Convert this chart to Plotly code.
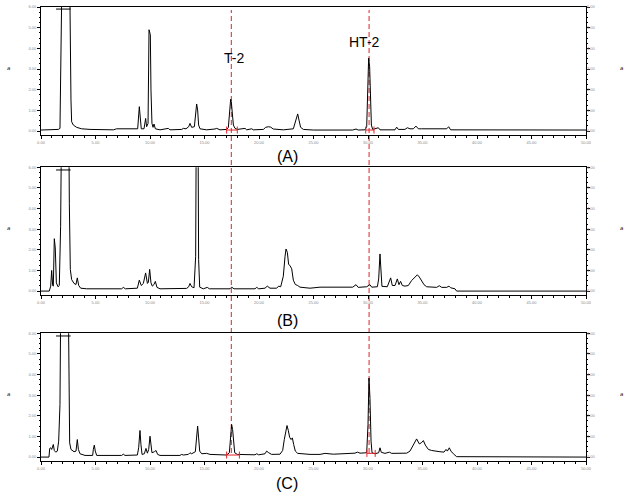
import plotly.graph_objects as go

# ---------------- data (retention time [min], detector response) ----------------
t_A = [0, 0.83, 1.59, 1.74, 1.83, 1.96, 2.60, 2.66, 2.75, 2.81, 2.97, 3.27, 3.73, 4.50, 6.64, 6.94,
       7.86, 8.47, 8.87, 9.02, 9.11, 9.20, 9.45, 9.60, 9.69, 9.82, 9.91, 9.97, 10.03, 10.09, 10.18,
       10.28, 10.37, 10.49, 10.92, 11.68, 11.83, 12.91, 13.06, 13.30, 13.55, 13.67, 13.82, 14.07,
       14.22, 14.28, 14.37, 14.46, 14.59, 15.20, 15.96, 16.12, 16.42, 17.03, 17.19, 17.31, 17.40,
       17.46, 17.55, 17.65, 17.80, 18.01, 18.72, 18.87, 19.33, 19.48, 20.40, 20.61, 20.86, 21.07,
       21.31, 22.23, 23.15, 23.36, 23.55, 23.67, 23.82, 24.07, 25.0, 28.6, 28.90, 29.1, 29.72,
       29.88, 29.97, 30.06, 30.15, 30.24, 30.31, 30.43, 30.95, 31.10, 32.48, 32.63, 32.78, 33.39,
       33.61, 33.85, 34.16, 34.40, 34.62, 34.92, 37.22, 37.40, 37.58, 50.0]
I_A = [5, 6, 8, 13, 312, 900, 900, 393, 150, 45, 29, 18, 11, 8, 6, 11,
       11, 8, 11, 118, 53, 11, 11, 61, 21, 37, 490, 474, 466, 199, 37,
       18, 34, 11, 6, 13, 6, 8, 13, 11, 21, 37, 18, 21,
       102, 131, 102, 29, 11, 6, 10, 13, 6, 8, 18, 118, 154,
       142, 78, 29, 13, 8, 13, 6, 11, 6, 8, 18, 21, 19,
       10, 6, 11, 45, 83, 53, 18, 8, 5, 5, 10, 5, 6,
       21, 207, 353, 312, 150, 29, 8, 16, 6, 6, 19, 8, 8,
       16, 11, 11, 24, 11, 11, 11, 21, 6, 5]

t_B = [0, 0.76, 0.89, 0.98, 1.07, 1.13, 1.22, 1.31, 1.41, 1.56, 1.68, 1.80, 1.90, 2.54, 2.60, 2.69,
       2.81, 3.03, 3.21, 3.33, 3.46, 3.64, 4.19, 7.40, 7.55, 7.74, 8.84, 9.02, 9.20, 9.39, 9.60,
       9.76, 9.85, 9.97, 10.09, 10.21, 10.37, 10.49, 10.64, 10.92, 13.36, 13.55, 13.67, 13.82,
       14.04, 14.19, 14.25, 14.40, 14.46, 14.56, 14.89, 15.26, 15.44, 17.34, 17.49, 17.71, 19.63,
       19.79, 19.97, 20.55, 20.76, 21.01, 21.62, 21.80, 21.99, 22.23, 22.39, 22.48, 22.60, 22.72,
       22.84, 23.00, 23.15, 23.33, 23.55, 23.76, 24.68, 25.60, 28.6, 28.90, 29.1, 29.88, 30.18,
       30.34, 30.86, 30.98, 31.10, 31.19, 31.28, 31.77, 31.96, 32.08, 32.23, 32.48, 32.69, 32.84,
       32.99, 33.15, 33.39, 33.70, 34.0, 34.31, 34.53, 34.71, 34.92, 35.14, 35.38, 36.30, 36.54,
       36.76, 37.22, 37.43, 37.58, 37.98, 38.13, 50.0]
I_B = [0, 0, 24, 100, 27, 24, 254, 209, 40, 21, 27, 314, 900, 900, 426, 105,
       56, 37, 32, 64, 27, 14, 11, 11, 18, 11, 14, 53, 27, 37, 88,
       37, 43, 105, 40, 24, 32, 47, 18, 11, 13, 21, 37, 21,
       16, 169, 900, 900, 153, 19, 11, 18, 11, 11, 19, 11, 11,
       18, 11, 14, 24, 14, 14, 24, 21, 72, 169, 204, 188, 129,
       124, 108, 53, 32, 27, 19, 14, 19, 19, 31, 18, 21, 31,
       19, 21, 59, 180, 92, 23, 21, 43, 64, 27, 27, 59, 31,
       47, 27, 24, 27, 51, 68, 79, 68, 47, 31, 21, 18, 26,
       18, 18, 24, 16, 11, 0, 0]

t_C = [0, 0.73, 0.80, 0.89, 0.98, 1.07, 1.13, 1.22, 1.35, 1.50, 1.62, 1.74, 1.83, 2.48, 2.54, 2.63,
       2.75, 3.03, 3.21, 3.33, 3.43, 3.58, 4.04, 4.74, 4.80, 4.89, 4.98, 5.11, 7.40, 7.55, 7.71,
       8.84, 8.96, 9.08, 9.17, 9.27, 9.48, 9.63, 9.76, 9.88, 10.0, 10.09, 10.18, 10.40, 10.55,
       10.70, 10.92, 12.75, 12.91, 13.06, 13.52, 13.67, 13.82, 14.16, 14.28, 14.37, 14.46, 14.56,
       14.74, 15.20, 15.50, 17.03, 17.28, 17.40, 17.49, 17.58, 17.68, 17.77, 18.01, 19.63, 19.79,
       19.97, 20.55, 20.70, 20.89, 21.16, 21.93, 22.17, 22.32, 22.48, 22.57, 22.69, 22.81, 22.94,
       23.06, 23.18, 23.33, 23.55, 24.68, 25.60, 26.06, 26.82, 27.74, 28.81, 29.02, 29.27, 29.88,
       30.0, 30.09, 30.18, 30.28, 30.37, 30.64, 30.98, 31.10, 31.22, 31.56, 31.96, 32.17, 33.55,
       33.85, 34.16, 34.46, 34.71, 34.89, 35.08, 35.26, 35.54, 35.84, 36.6, 36.97, 37.16, 37.28,
       37.46, 37.61, 37.83, 38.13, 50.0]
I_C = [0, 0, 42, 45, 37, 51, 61, 32, 24, 29, 77, 254, 900, 900, 318, 69,
       37, 26, 29, 85, 37, 16, 8, 8, 37, 58, 29, 8, 8, 14, 8,
       10, 45, 129, 61, 13, 16, 42, 19, 37, 101, 61, 21, 26, 32,
       13, 8, 8, 13, 10, 13, 21, 16, 26, 125, 150, 93, 29,
       16, 18, 13, 10, 21, 125, 158, 133, 61, 21, 13, 11, 16,
       11, 16, 29, 21, 13, 14, 32, 85, 145, 153, 129, 96, 85,
       93, 61, 29, 18, 13, 13, 18, 14, 16, 19, 24, 19, 21,
       158, 383, 286, 77, 21, 16, 21, 45, 23, 18, 24, 18, 19,
       29, 61, 88, 64, 69, 80, 58, 37, 32, 26, 24, 37, 29,
       45, 29, 16, 2, 0]

# integration baselines (start, end, level) per panel
integ_A = [(17.03, 18.01, 5), (29.79, 30.55, 5)]
integ_B = []
integ_C = [(17.03, 18.20, 10), (29.90, 30.66, 18)]
# off-scale flag (start, end, level)
flag_A = (1.38, 2.72, 590)
flag_B = (1.38, 2.72, 587)
flag_C = (1.38, 2.72, 587)

rt_marks = [17.46, 30.10]
rt_names = ["T-2", "HT-2"]
panel_names = ["(A)", "(B)", "(C)"]
x_ticks = [0, 5, 10, 15, 20, 25, 30, 35, 40, 45, 50]
y_ticks = [0, 100, 200, 300, 400, 500, 600]

# ---------------- figure ----------------
W, H = 626, 497
def px(x): return x / W
def py(y): return 1 - y / H

fig = go.Figure()
panels = [
    (t_A, I_A, integ_A, flag_A, 7, 135),
    (t_B, I_B, integ_B, flag_B, 167.3, 295),
    (t_C, I_C, integ_C, flag_C, 333.3, 461),
]
XR = [0, 50]
YR = [-19, 600]
tickfont = dict(size=4, color="#8a8a8a", family="Liberation Sans")

for i, (tt, yy, integ, flag, top, bot) in enumerate(panels):
    n = i + 1
    xa = "x" if n == 1 else f"x{n}"
    ya = "y" if n == 1 else f"y{n}"
    fig.add_trace(go.Scatter(x=tt, y=yy, mode="lines", xaxis=xa, yaxis=ya,
                             line=dict(color="black", width=1), showlegend=False,
                             hoverinfo="skip"))
    fig.add_trace(go.Scatter(x=[flag[0], flag[1]], y=[flag[2], flag[2]], mode="lines",
                             xaxis=xa, yaxis=ya, line=dict(color="black", width=1),
                             showlegend=False, hoverinfo="skip"))
    for (s, e, lv) in integ:
        fig.add_trace(go.Scatter(x=[s, e], y=[lv, lv], mode="lines+markers", xaxis=xa, yaxis=ya,
                                 line=dict(color="#e8202a", width=1),
                                 marker=dict(symbol="line-ns-open", size=5,
                                             line=dict(color="#e8202a", width=1)),
                                 showlegend=False, hoverinfo="skip"))
    ra = f"y{n + 3}"
    fig.add_trace(go.Scatter(x=[0], y=[0], mode="markers", xaxis=xa, yaxis=ra,
                             marker=dict(opacity=0), showlegend=False, hoverinfo="skip"))

    dom_y = [py(bot), py(top)]
    xkey = "xaxis" if n == 1 else f"xaxis{n}"
    ykey = "yaxis" if n == 1 else f"yaxis{n}"
    fig.layout[xkey] = dict(domain=[px(41), px(586)], range=XR, anchor=ya, automargin=False,
                            showline=True, linecolor="black", linewidth=1, mirror=True,
                            ticks="outside", ticklen=3, tickcolor="black", tickwidth=1,
                            tickvals=x_ticks, ticktext=[f"{v:.2f}" for v in x_ticks],
                            tickfont=tickfont, showgrid=False, zeroline=False,
                            minor=dict(ticks="outside", ticklen=2, dtick=1, tickcolor="black"))
    fig.layout[ykey] = dict(domain=dom_y, range=YR, anchor=xa, automargin=False,
                            showline=True, linecolor="black", linewidth=1, mirror="ticks",
                            ticks="outside", ticklen=3, tickcolor="black",
                            tickvals=y_ticks, ticktext=[f"{v/100:.2f}" for v in y_ticks],
                            tickfont=tickfont, showgrid=False, zeroline=False,
                            minor=dict(ticks="outside", ticklen=1, dtick=25, tickcolor="black"))
    fig.layout[f"yaxis{n + 3}"] = dict(overlaying=ya, side="right", anchor=xa, range=YR,
                                      automargin=False,
                                      showline=False, ticks="", tickvals=y_ticks,
                                      ticktext=[f"{v/100:.2f}" for v in y_ticks],
                                      tickfont=tickfont, showgrid=False, zeroline=False)
    mid = (top + bot) / 2
    fig.add_annotation(xref="paper", yref="paper", x=px(8), y=py(mid - 3), text="a",
                       xanchor="center", yanchor="middle",
                       showarrow=False, font=dict(size=6, color="black"))
    fig.add_annotation(xref="paper", yref="paper", x=px(621), y=py(mid - 3), text="a",
                       xanchor="center", yanchor="middle",
                       showarrow=False, font=dict(size=6, color="black"))

# retention-time markers
for rt in rt_marks:
    fig.add_shape(type="line", xref="x", yref="paper", x0=rt, x1=rt, y0=py(453), y1=py(10),
                  layer="below", line=dict(color="#e0202a", width=1, dash="5px,3px"))

fig.add_annotation(xref="paper", yref="paper", x=px(234), y=py(57.5), text=rt_names[0],
                   xanchor="center", yanchor="middle",
                   showarrow=False, font=dict(size=14, color="black", family="Liberation Sans"))
fig.add_annotation(xref="paper", yref="paper", x=px(364), y=py(41.5), text=rt_names[1],
                   xanchor="center", yanchor="middle",
                   showarrow=False, font=dict(size=14, color="black", family="Liberation Sans"))
for name, yc in zip(panel_names, [156, 320, 483]):
    fig.add_annotation(xref="paper", yref="paper", x=px(287), y=py(yc), text=name,
                       xanchor="center", yanchor="middle",
                       showarrow=False, font=dict(size=16, color="black", family="Liberation Sans"))

fig.update_layout(width=W, height=H, autosize=False, margin=dict(l=0, r=0, t=0, b=0, pad=0),
                  paper_bgcolor="white", plot_bgcolor="white", showlegend=False)
fig.write_html("out.html")
